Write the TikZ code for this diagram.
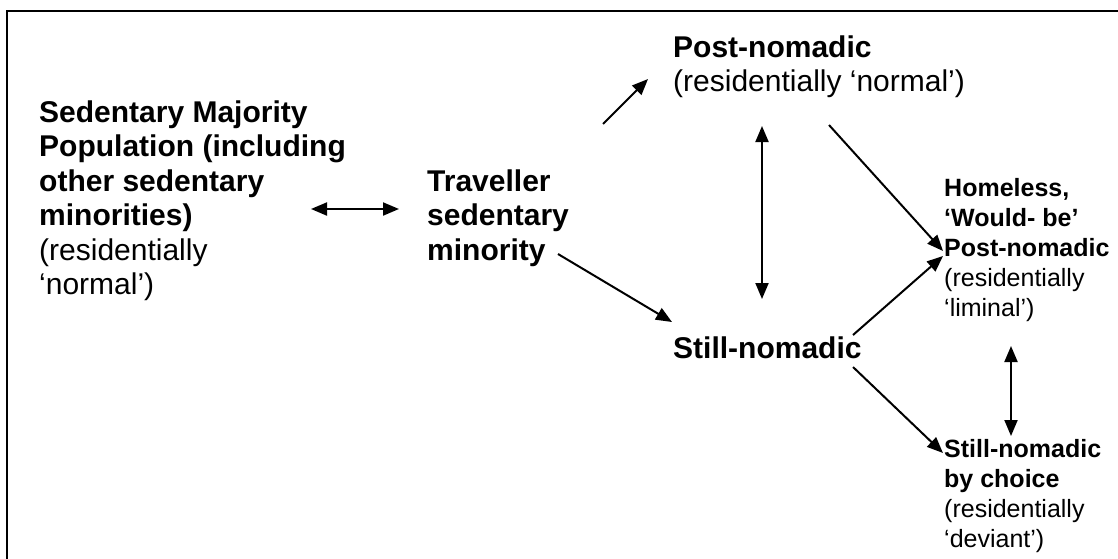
\documentclass[tikz,border=0pt]{standalone}
\usepackage{fontspec}
\setmainfont{Liberation Sans}
\usetikzlibrary{arrows.meta}
\begin{document}
\begin{tikzpicture}[x=1pt,y=-1pt,
  label/.style={anchor=base west,inner sep=0pt,align=left},
  big/.style={font=\fontsize{30}{34.5}\selectfont},
  small/.style={font=\fontsize{25}{30}\selectfont},
  tip/.style={Triangle[length=16pt,width=13pt]},
  link/.style={line width=2pt,-{Triangle[length=16pt,width=13pt]}},
  twoway/.style={line width=2pt,{Triangle[length=16pt,width=13pt]}-{Triangle[length=16pt,width=13pt]}}]
\useasboundingbox (0,0) rectangle (1118,558);
% open frame along the top and left
\draw[line width=2.2pt] (7,570) -- (7,11) -- (1130,11);

% categories
\node[label,big] (maj) at (39,122) {\begin{tabular}[t]{@{}l@{}}\textbf{Sedentary Majority}\\ \textbf{Population (including}\\ \textbf{other sedentary}\\ \textbf{minorities)}\\ (residentially\\ ‘normal’)\end{tabular}};
\node[label,big] (trav) at (427,191) {\begin{tabular}[t]{@{}l@{}}\textbf{Traveller}\\ \textbf{sedentary}\\ \textbf{minority}\end{tabular}};
\node[label,big] (post) at (673,57) {\begin{tabular}[t]{@{}l@{}}\textbf{Post-nomadic}\\ (residentially ‘normal’)\end{tabular}};
\node[label,big] (still) at (673,358) {\textbf{Still-nomadic}};
\node[label,small] (home) at (944,196) {\begin{tabular}[t]{@{}l@{}}\textbf{Homeless,}\\ \textbf{‘Would- be’}\\ \textbf{Post-nomadic}\\ (residentially\\ ‘liminal’)\end{tabular}};
\node[label,small] (choice) at (944,457) {\begin{tabular}[t]{@{}l@{}}\textbf{Still-nomadic}\\ \textbf{by choice}\\ (residentially\\ ‘deviant’)\end{tabular}};

% connector end points
\coordinate (majR) at (311,209);
\coordinate (travL) at (399,209);
\coordinate (travA) at (603,124);
\coordinate (postB) at (648,79);
\coordinate (travC) at (558,254);
\coordinate (stillA) at (672,322);
\coordinate (postV) at (762,126);
\coordinate (stillV) at (762,299);
\coordinate (postD) at (829,125);
\coordinate (homeA) at (943,251);
\coordinate (stillE) at (853,335);
\coordinate (homeB) at (943,256);
\coordinate (stillF) at (853,367);
\coordinate (choiceA) at (943,453);
\coordinate (homeV) at (1011,346);
\coordinate (choiceV) at (1011,436);

% connectors
\draw[twoway] (majR) -- (travL);
\draw[link] (travA) -- (postB);
\draw[link] (travC) -- (stillA);
\draw[twoway] (postV) -- (stillV);
\draw[link] (postD) -- (homeA);
\draw[link] (stillE) -- (homeB);
\draw[link] (stillF) -- (choiceA);
\draw[twoway] (homeV) -- (choiceV);
\end{tikzpicture}
\end{document}
